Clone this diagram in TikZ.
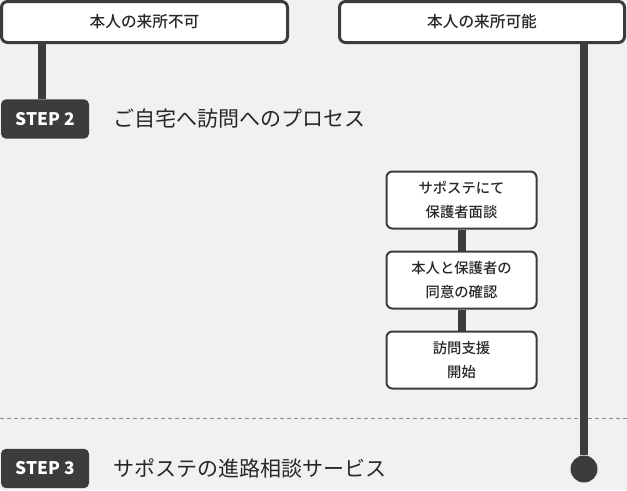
\documentclass[tikz,border=0pt]{standalone}
\usepackage{fontspec}
\setmainfont{Noto Sans CJK JP}
\newfontfamily\medfont{Noto Sans CJK JP Medium}
\usetikzlibrary{positioning}

\definecolor{ink}{RGB}{60,60,60}
\definecolor{txt}{RGB}{40,40,40}
\definecolor{paper}{RGB}{241,241,241}
\definecolor{rule}{RGB}{140,140,140}

\tikzset{every picture/.style={line width=0.75pt}}
\tikzset{
	casebox/.style={draw=ink, line width=2.25pt, fill=white, rounded corners=4.5pt,
		minimum width=214.5pt, minimum height=30.75pt, inner sep=0pt, text=txt,
		font=\medfont\fontsize{11.75}{14}\selectfont},
	stepbox/.style={fill=ink, rounded corners=3.75pt, minimum width=66pt,
		minimum height=29.5pt, inner sep=0pt, text=white,
		font=\bfseries\fontsize{13}{15}\selectfont},
	flowbox/.style={draw=ink, line width=1.5pt, fill=white, rounded corners=4.5pt,
		minimum width=112.5pt, minimum height=42.75pt, inner sep=0pt, align=center,
		text=txt, font=\medfont\fontsize{10.75}{17.75}\selectfont},
	headline/.style={inner sep=0pt, text=txt, font=\fontsize{15.75}{18}\selectfont},
	trunk/.style={draw=ink, line width=6pt},
	dashline/.style={draw=rule, line width=0.75pt, dash pattern=on 3pt off 2.25pt}
}

\begin{document}
\begin{tikzpicture}[x=0.75pt,y=0.75pt,yscale=-1,xscale=1]
		%background, 627 x 490
		\fill[paper] (0,0) rectangle (627,490);
		\useasboundingbox (0,0) rectangle (627,490);
		
		%separator
		\draw[dashline] (0,418) -- (627,418);
		
		%top cases
		\node[casebox] (nocome) at (144.5,22) {本人の来所不可};
		\node[casebox, minimum width=213.75pt] (cancome) at (482,22) {本人の来所可能};
		
		%steps
		\node[stepbox] (step2) at (45,119) {STEP 2};
		\node[headline, right=17.25pt of step2] (step2txt) {ご自宅へ訪問へのプロセス};
		\node[stepbox] (step3) at (45,468.5) {STEP 3};
		\node[headline, right=17.25pt of step3] (step3txt) {サポステの進路相談サービス};
		
		%home visit flow
		\node[flowbox] (meet) at (461.5,200) {サポステにて\\保護者面談};
		\node[flowbox, below=15.75pt of meet] (agree) {本人と保護者の\\同意の確認};
		\node[flowbox, below=15.75pt of agree] (visit) {訪問支援\\開始};
		\draw[trunk] (meet) -- (agree);
		\draw[trunk] (agree) -- (visit);
		
		%trunk lines
		\coordinate (lefttop) at (42,22);
		\draw[trunk] (nocome.south -| lefttop) -- (step2.north -| lefttop);
		\node[circle, fill=ink, minimum size=20.25pt, inner sep=0pt] (endcap) at (584,469) {};
		\draw[trunk] (cancome.south -| endcap) -- (endcap);
		
	\end{tikzpicture}
\end{document}
